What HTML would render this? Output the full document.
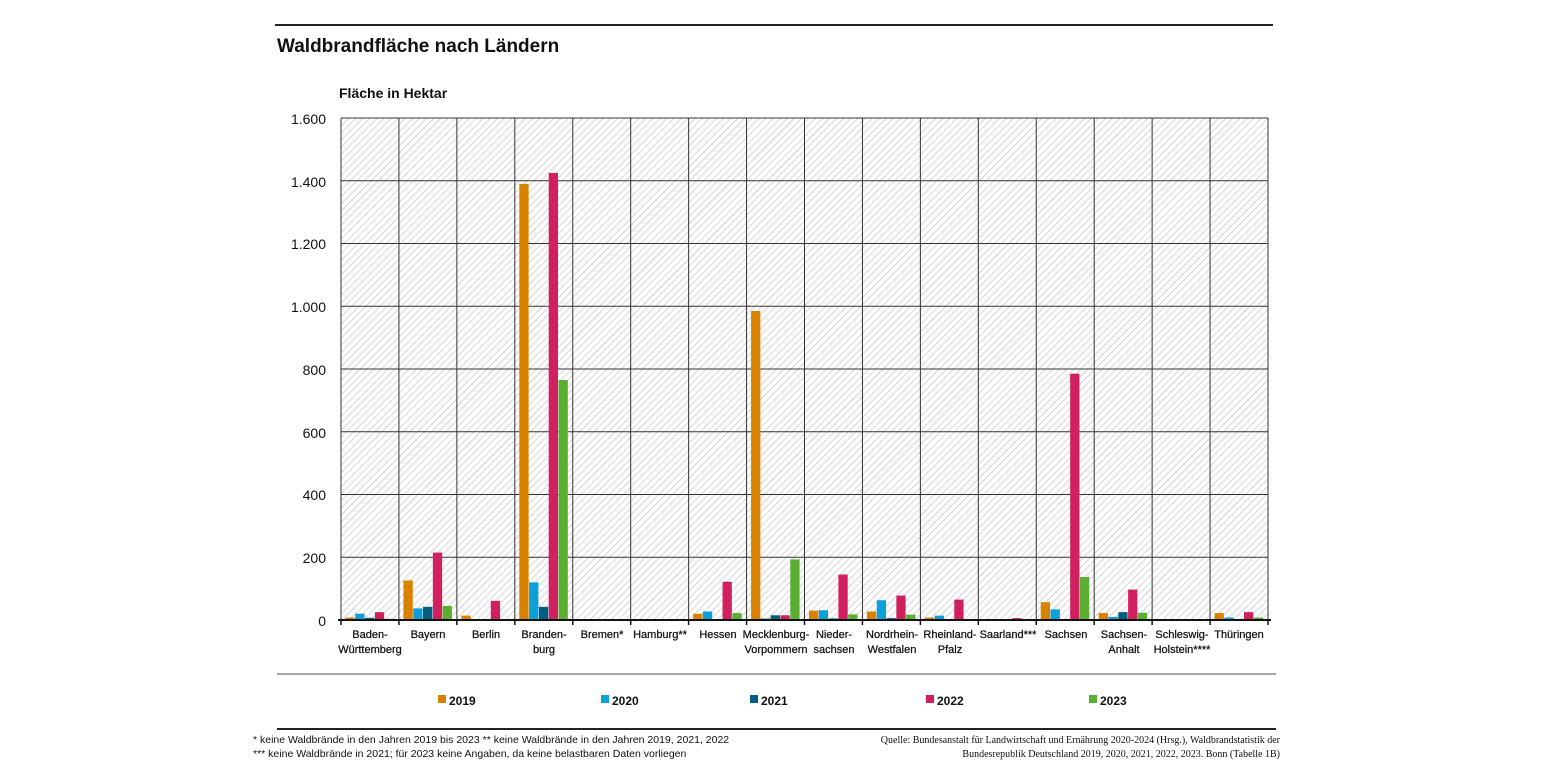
<!DOCTYPE html>
<html><head><meta charset="utf-8"><style>
html,body{margin:0;padding:0;background:#fff;}
svg{display:block;font-family:"Liberation Sans",sans-serif;}
</style></head><body>
<svg id="s" width="1545" height="775" viewBox="0 0 1545 775" xmlns="http://www.w3.org/2000/svg">
<defs>
<pattern id="h" width="5" height="5" patternUnits="userSpaceOnUse" patternTransform="rotate(45)">
<rect width="5" height="5" fill="#fff"/><line x1="0" y1="0" x2="0" y2="5" stroke="#bdbdbd" stroke-width="1.2"/>
</pattern>
</defs>
<line x1="275" y1="25" x2="1273" y2="25" stroke="#222" stroke-width="2"/>
<text x="277" y="52" font-size="19" font-weight="bold" fill="#111">Waldbrandfläche nach Ländern</text>
<text x="339" y="98" font-size="14" font-weight="bold" fill="#111">Fläche in Hektar</text>
<rect x="341" y="118" width="927" height="502" fill="url(#h)"/>
<g id="grid" stroke="#333" stroke-width="1"></g>
<g id="bars"></g>
<g font-size="14" fill="#111" text-anchor="end">
<text x="326" y="124">1.600</text><text x="326" y="187">1.400</text><text x="326" y="249">1.200</text>
<text x="326" y="312">1.000</text><text x="326" y="375">800</text><text x="326" y="438">600</text>
<text x="326" y="500">400</text><text x="326" y="563">200</text><text x="326" y="626">0</text>
</g>
<g font-size="11" fill="#111" text-anchor="middle" stroke="#111" stroke-width="0.25">
<text x="370" y="638">Baden-</text><text x="370" y="653">Württemberg</text>
<text x="428" y="638">Bayern</text>
<text x="486" y="638">Berlin</text>
<text x="544" y="638">Branden-</text><text x="544" y="653">burg</text>
<text x="602" y="638">Bremen*</text>
<text x="660" y="638">Hamburg**</text>
<text x="718" y="638">Hessen</text>
<text x="776" y="638">Mecklenburg-</text><text x="776" y="653">Vorpommern</text>
<text x="834" y="638">Nieder-</text><text x="834" y="653">sachsen</text>
<text x="892" y="638">Nordrhein-</text><text x="892" y="653">Westfalen</text>
<text x="950" y="638">Rheinland-</text><text x="950" y="653">Pfalz</text>
<text x="1008" y="638">Saarland***</text>
<text x="1066" y="638">Sachsen</text>
<text x="1124" y="638">Sachsen-</text><text x="1124" y="653">Anhalt</text>
<text x="1182" y="638">Schleswig-</text><text x="1182" y="653">Holstein****</text>
<text x="1239" y="638">Thüringen</text>
</g>
<line x1="277" y1="674" x2="1276" y2="674" stroke="#888" stroke-width="1.5"/>
<g font-size="12" fill="#111" font-weight="bold">
<rect x="438" y="695" width="8" height="8" fill="#d98200"/><text x="449" y="705">2019</text>
<rect x="601" y="695" width="8" height="8" fill="#0ba0d8"/><text x="612" y="705">2020</text>
<rect x="750" y="695" width="8" height="8" fill="#005f80"/><text x="761" y="705">2021</text>
<rect x="926" y="695" width="8" height="8" fill="#d1205f"/><text x="937" y="705">2022</text>
<rect x="1089" y="695" width="8" height="8" fill="#5aaf32"/><text x="1100" y="705">2023</text>
</g>
<line x1="277" y1="729" x2="1276" y2="729" stroke="#222" stroke-width="2"/>
<g font-size="10.5" fill="#111">
<text x="253" y="743">* keine Waldbrände in den Jahren 2019 bis 2023    ** keine Waldbrände in den Jahren 2019, 2021, 2022</text>
<text x="253" y="757">*** keine Waldbrände in 2021; für 2023 keine Angaben, da keine belastbaren Daten vorliegen</text>
</g>
<g font-size="10" fill="#111" text-anchor="end" font-family="Liberation Serif,serif">
<text x="1280" y="743">Quelle: Bundesanstalt für Landwirtschaft und Ernährung 2020-2024 (Hrsg.), Waldbrandstatistik der</text>
<text x="1280" y="757">Bundesrepublik Deutschland 2019, 2020, 2021, 2022, 2023. Bonn (Tabelle 1B)</text>
</g>
</svg>
<script>
var ns="http://www.w3.org/2000/svg";
var g=document.getElementById("grid"),b=document.getElementById("bars");
var x0=341,w=927/16,y0=620,k=502/1600;
function el(p,t,a){var e=document.createElementNS(ns,t);for(var i in a)e.setAttribute(i,a[i]);p.appendChild(e);return e;}
for(var i=1;i<=8;i++){var y=y0-i*200*k;el(g,"line",{x1:x0,x2:x0+927,y1:y,y2:y});}
for(var i=0;i<=16;i++){var x=x0+i*w;el(g,"line",{x1:x,x2:x,y1:118,y2:620});}
var d=[[8,20,7,25,4],[126,37,42,215,45],[14,0,0,61,2],[1390,120,42,1425,765],[0,0,0,0,0],[0,0,0,0,1],
[20,27,2,122,22],[985,5,15,15,193],[30,31,5,145,18],[27,63,6,78,17],[8,14,2,65,3],[3,1,0,6,0],
[57,34,3,785,137],[22,10,25,97,23],[1,1,1,1,1],[22,8,2,25,8]];
var c=["#d98200","#0ba0d8","#005f80","#d1205f","#5aaf32"];
d.forEach(function(r,i){r.forEach(function(v,j){if(v<=0)return;var h=v*k;
el(b,"rect",{x:x0+i*w+4.5+j*9.8,y:y0-h,width:9.3,height:h,fill:c[j]});});});
el(b,"line",{x1:x0-3,x2:x0+930,y1:y0,y2:y0,stroke:"#111","stroke-width":2});
for(var i=0;i<=16;i++){var x=x0+i*w;el(b,"line",{x1:x,x2:x,y1:y0,y2:y0+5,stroke:"#111","stroke-width":1.5});}
</script>
</body></html>
